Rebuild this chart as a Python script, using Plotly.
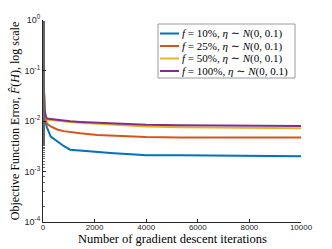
import plotly.graph_objects as go

iters = [0, 30, 60, 100, 150, 300, 550, 800, 1050, 1450, 2100, 2750, 3400, 4000, 5300, 7000, 10000]
err_f10 = [0.2, 0.03, 0.014, 0.0095, 0.0075, 0.0049, 0.0039, 0.0032, 0.0027, 0.0026, 0.0024, 0.0023, 0.0022, 0.0021, 0.0021, 0.00205, 0.0020]
err_f25 = [0.2, 0.03, 0.015, 0.011, 0.0089, 0.0078, 0.0068, 0.0063, 0.0060, 0.0057, 0.0053, 0.0051, 0.0049, 0.0048, 0.0047, 0.0047, 0.0047]
err_f50 = [0.2, 0.03, 0.016, 0.0125, 0.0108, 0.0105, 0.0101, 0.0098, 0.0095, 0.0092, 0.0088, 0.0084, 0.0080, 0.0078, 0.0075, 0.0073, 0.0072]
err_f100 = [0.2, 0.03, 0.017, 0.013, 0.0112, 0.0110, 0.0106, 0.0101, 0.0099, 0.0096, 0.0093, 0.0089, 0.0086, 0.0084, 0.0082, 0.0081, 0.0080]

names = [
    "<i>f</i> = 10%, <i>η</i> ∼ <i>N</i>(0, 0.1)",
    "<i>f</i> = 25%, <i>η</i> ∼ <i>N</i>(0, 0.1)",
    "<i>f</i> = 50%, <i>η</i> ∼ <i>N</i>(0, 0.1)",
    "<i>f</i> = 100%, <i>η</i> ∼ <i>N</i>(0, 0.1)",
]
series = [err_f10, err_f25, err_f50, err_f100]
colors = ["#0072BD", "#D95319", "#EDB120", "#7E2F8E"]

xticks = [0, 2000, 4000, 6000, 8000, 10000]
yticks = [1, 0.1, 0.01, 0.001, 0.0001]
yticktext = ["10<sup>0</sup>", "10<sup>-1</sup>", "10<sup>-2</sup>", "10<sup>-3</sup>", "10<sup>-4</sup>"]

font = "Liberation Serif, DejaVu Serif, serif"
W, H = 332, 249
ML, MR, MT, MB = 43, 31, 20, 27
PW, PH = W - ML - MR, H - MT - MB

def px_x(p):
    return (p - ML) / PW

def px_y(p):
    return (H - MB - p) / PH

fig = go.Figure()
for n, s, c in zip(names, series, colors):
    fig.add_trace(go.Scatter(x=iters, y=s, mode="lines", name=n,
                             line=dict(color=c, width=2), showlegend=False))

# legend drawn as box + sample lines + labels
shapes = [dict(type="rect", xref="paper", yref="paper",
               x0=px_x(158), x1=px_x(295), y0=px_y(78), y1=px_y(24),
               line=dict(color="#9a9a9a", width=1), fillcolor="white", layer="above")]
annotations = []
row_y = [33.5, 46, 58.5, 71]
for n, c, ry in zip(names, colors, row_y):
    shapes.append(dict(type="line", xref="paper", yref="paper",
                       x0=px_x(160), x1=px_x(179), y0=px_y(ry), y1=px_y(ry),
                       line=dict(color=c, width=2), layer="above"))
    annotations.append(dict(xref="paper", yref="paper", x=px_x(180), y=px_y(ry),
                            xanchor="left", yanchor="middle", showarrow=False,
                            text=n, font=dict(size=11, family=font, color="black")))

annotations.append(dict(xref="paper", yref="paper", x=0.5, y=px_y(231),
                        xanchor="center", yanchor="top", showarrow=False, borderpad=0,
                        text="Number of gradient descent iterations",
                        font=dict(size=12.5, family=font, color="black")))

fig.update_layout(
    width=W, height=H,
    margin=dict(l=ML, r=MR, t=MT, b=MB, autoexpand=False),
    paper_bgcolor="white", plot_bgcolor="white",
    font=dict(family=font, color="#262626"),
    showlegend=False,
    shapes=shapes, annotations=annotations,
)
fig.update_xaxes(
    automargin=False,
    range=[0, 10000], tickvals=xticks, ticktext=[str(v) for v in xticks],
    ticks="inside", ticklen=3, tickcolor="#262626",
    showline=True, linecolor="#262626", linewidth=1, showgrid=False, zeroline=False,
    ticklabelstandoff=-3,
    tickfont=dict(size=8, family="Liberation Sans, Arial, sans-serif", color="#262626"),
)
fig.update_yaxes(
    automargin=False,
    type="log", range=[-4, 0], tickvals=yticks, ticktext=yticktext,
    ticks="inside", ticklen=3, tickcolor="#262626",
    minor=dict(ticks="inside", ticklen=2, tickcolor="#666666", tickwidth=0.7, showgrid=False),
    showline=True, linecolor="#262626", linewidth=1, showgrid=False, zeroline=False,
    tickfont=dict(size=9, family="Liberation Sans, Arial, sans-serif", color="#262626"),
    title=dict(text="Objective Function Error, <i>F̂</i>(<i>H</i>), log scale", standoff=2,
               font=dict(size=12, family=font, color="black")),
)

fig.write_html("out.html", config={"displayModeBar": False},
               post_script="document.body.style.margin='0';")
